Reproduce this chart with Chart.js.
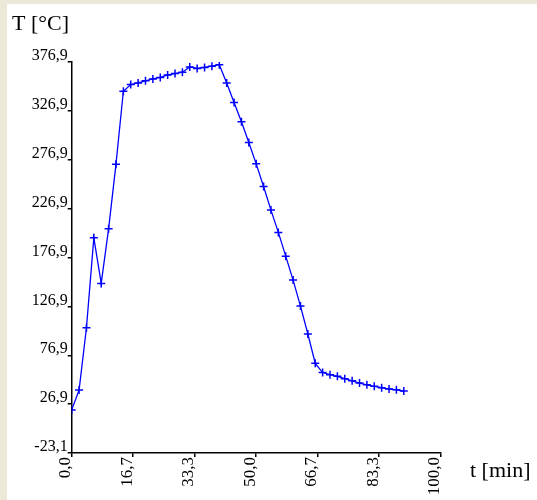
<!DOCTYPE html>
<html>
<head>
<meta charset="utf-8">
<script src="https://cdn.jsdelivr.net/npm/chart.js@4.4.0/dist/chart.umd.min.js"></script>
<style>
html, body { margin: 0; padding: 0; background: #ece9d8; }
#wrap { position: absolute; left: 7px; top: 4px; width: 530px; height: 496px; background: #fff; }
</style>
</head>
<body>
<div id="wrap"><canvas id="myChart" width="530" height="496"></canvas></div>
<script>
// time [min] and temperature [°C]
const times = [0, 2, 4, 6, 8, 10, 12, 14, 16, 18, 20, 22, 24, 26, 28, 30, 32, 34, 36, 38, 40,
               42, 44, 46, 48, 50, 52, 54, 56, 58, 60, 62, 64, 66, 68, 70, 72, 74, 76, 78,
               80, 82, 84, 86, 88, 90];
const temps = [21, 41.3, 105, 197, 150.4, 206.2, 272.4, 347, 353.9, 355.5, 357.6, 359.6, 361.1,
               363.7, 365.1, 366.5, 371.9, 370.3, 371.3, 372.6, 374.1,
               355.5, 335.5, 315.7, 294.6, 272.7, 249.6, 225.4, 202.6, 178.3, 153.8, 127.2, 98.6,
               68.6, 59.2, 57, 55.3, 52.9, 50.8, 48.5, 46.7, 45.1, 43.7, 42.3, 41.6, 40.3];

const xTickValues = [0, 100 / 6, 200 / 6, 50, 400 / 6, 500 / 6, 100];
const xTickLabels = ['0,0', '16,7', '33,3', '50,0', '66,7', '83,3', '100,0'];
const yTickValues = [-23.1, 26.9, 76.9, 126.9, 176.9, 226.9, 276.9, 326.9, 376.9];
const yTickLabels = ['-23,1', '26,9', '76,9', '126,9', '176,9', '226,9', '276,9', '326,9', '376,9'];

const axisTitles = {
    id: 'axisTitles',
    afterDraw(chart) {
        const ctx = chart.ctx;
        ctx.save();
        ctx.font = '22px "Liberation Serif"';
        ctx.fillStyle = '#000';
        ctx.textBaseline = 'alphabetic';
        ctx.fillText('T [°C]', 5, 26);
        ctx.fillText('t [min]', 463, 473);
        ctx.restore();
    }
};

const ctx = document.getElementById('myChart').getContext('2d');
const myChart = new Chart(ctx, {
    type: 'line',
    data: {
        datasets: [{
            data: times.map((t, i) => ({ x: t, y: temps[i] })),
            borderColor: '#0000ff',
            borderWidth: 1.3,
            pointStyle: 'cross',
            pointRadius: 4,
            pointBorderWidth: 1.5,
            pointBorderColor: '#0000ff',
            tension: 0,
            fill: false
        }]
    },
    options: {
        responsive: false,
        animation: false,
        layout: { padding: { top: 58, right: 96.3, left: 0, bottom: 0 } },
        plugins: { legend: { display: false }, tooltip: { enabled: false } },
        scales: {
            x: {
                type: 'linear',
                min: 0,
                max: 100,
                afterBuildTicks: scale => { scale.ticks = xTickValues.map(v => ({ value: v })); },
                afterFit: scale => { scale.height = 47; },
                grid: { display: true, drawOnChartArea: false, drawTicks: true, tickLength: 4, color: '#000', lineWidth: 1.5 },
                border: { color: '#000', width: 1.5 },
                ticks: {
                    autoSkip: false,
                    minRotation: 90,
                    maxRotation: 90,
                    padding: 0,
                    labelOffset: -6,
                    color: '#000',
                    font: { family: 'Liberation Serif', size: 17 },
                    callback: (value, index) => xTickLabels[index]
                }
            },
            y: {
                type: 'linear',
                min: -23.1,
                max: 376.9,
                afterBuildTicks: scale => { scale.ticks = yTickValues.map(v => ({ value: v })); },
                afterFit: scale => { scale.width = 64.7; },
                grid: { display: true, drawOnChartArea: false, drawTicks: true, tickLength: 4, color: '#000', lineWidth: 1.5 },
                border: { color: '#000', width: 1.5 },
                ticks: {
                    autoSkip: false,
                    padding: 0,
                    labelOffset: -6,
                    color: '#000',
                    font: { family: 'Liberation Serif', size: 16 },
                    callback: (value, index) => yTickLabels[index]
                }
            }
        }
    },
    plugins: [axisTitles]
});
</script>
</body>
</html>
